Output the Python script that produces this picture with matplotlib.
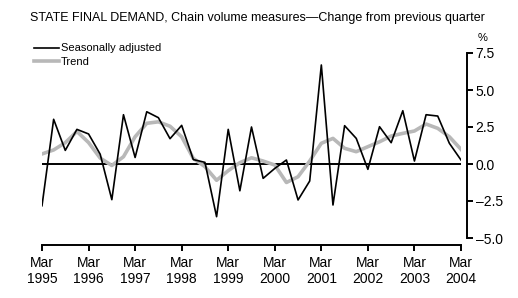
import matplotlib
matplotlib.use("Agg")
import matplotlib.pyplot as plt
import numpy as np

# quarterly, Mar 1995 .. Mar 2004
seasonally_adjusted = [-2.82, 3.02, 0.92, 2.34, 2.03, 0.66, -2.41, 3.33, 0.44, 3.53, 3.13,
                       1.71, 2.61, 0.3, 0.11, -3.56, 2.34, -1.81, 2.5, -0.97, -0.3, 0.27,
                       -2.43, -1.15, 6.69, -2.77, 2.59, 1.73, -0.36, 2.52, 1.44, 3.6, 0.2,
                       3.33, 3.24, 1.4, 0.27]
trend = [0.68, 0.95, 1.44, 2.2, 1.45, 0.4, -0.1, 0.49, 1.84, 2.75, 2.85, 2.55, 1.84,
         0.38, -0.18, -1.1, -0.45, 0.09, 0.42, 0.2, -0.07, -1.25, -0.86, 0.2, 1.4,
         1.73, 1.06, 0.83, 1.17, 1.5, 1.89, 2.07, 2.23, 2.7, 2.41, 1.84, 0.99]
years = list(range(1995, 2005))
yticks = [-5.0, -2.5, 0.0, 2.5, 5.0, 7.5]

plt.rcParams['font.family'] = ['Liberation Sans', 'DejaVu Sans']

fig = plt.figure(figsize=(5.18, 2.98), dpi=100)
ax = fig.add_axes([42 / 518, 1 - 238 / 298, 419 / 518, 185 / 298])

x = np.arange(len(seasonally_adjusted))
ax.axhline(0, color="black", lw=1.4, zorder=1)
ax.plot(x, trend, color="#b8b8b8", lw=2.6, label="Trend", zorder=2, solid_joinstyle="round")
ax.plot(x, seasonally_adjusted, color="black", lw=1.2, label="Seasonally adjusted", zorder=3)

ax.set_xlim(0, 36)
ax.set_ylim(-5, 7.5)

ax.set_xticks([4 * i for i in range(len(years))])
ax.set_xticklabels(["Mar\n%d" % y for y in years], fontsize=8, linespacing=1.0)
ax.set_yticks(yticks)
ax.set_yticklabels([("%.1f" % v).replace("-", "\u2013") for v in yticks], fontsize=8)

ax.yaxis.tick_right()
for s in ["top", "left"]:
    ax.spines[s].set_visible(False)
ax.spines["right"].set_position(("outward", 4.5))
ax.spines["bottom"].set_position(("outward", 5))
ax.spines["right"].set_linewidth(1.4)
ax.spines["bottom"].set_linewidth(1.4)
ax.tick_params(axis="both", direction="out", length=4, width=1.4, pad=2)
ax.tick_params(axis="x", pad=4)

handles, labels = ax.get_legend_handles_labels()
fig.legend(handles[::-1], labels[::-1], loc="upper left", bbox_to_anchor=(30 / 518, 1 - 39 / 298),
           frameon=False, fontsize=8, handlelength=2.2, handletextpad=0.15,
           labelspacing=0.35, borderaxespad=0)

fig.text(30 / 518, 1 - 18 / 298,
         "STATE FINAL DEMAND, Chain volume measures\u2014Change from previous quarter",
         fontsize=9, va="center", ha="left")
fig.text(483 / 518, 1 - 38 / 298, "%", fontsize=8, ha="center", va="center")

fig.savefig("out.png", dpi=100)
